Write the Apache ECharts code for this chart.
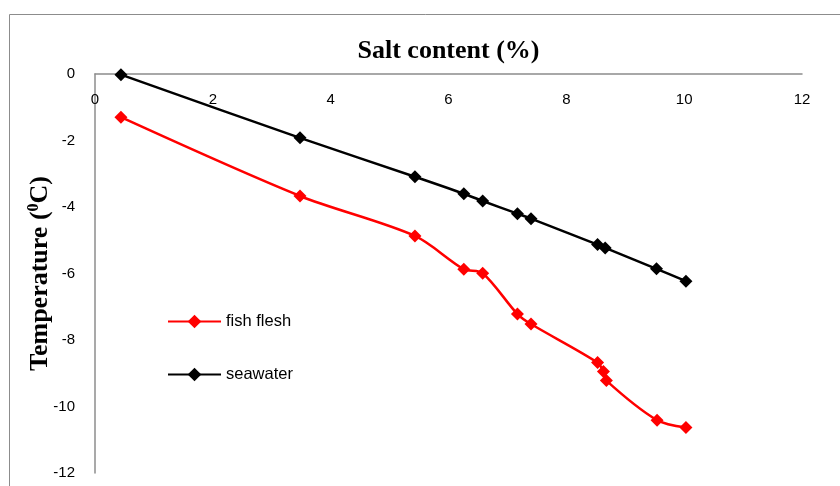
<!DOCTYPE html>
<html>
<head>
<meta charset="utf-8">
<script src="https://cdn.jsdelivr.net/npm/echarts@6/dist/echarts.min.js"></script>
<style>
  html, body { margin: 0; padding: 0; background: #fff; }
  #chart { width: 840px; height: 486px; }
</style>
</head>
<body>
<div id="chart"></div>
<script>
// salt content (%) vs freezing temperature
const seawaterSalt = [0.44, 3.48, 5.43, 6.26, 6.58, 7.17, 7.40, 8.53, 8.66, 9.53, 10.03]
const seawaterTemp = [-0.02, -1.92, -3.09, -3.6, -3.82, -4.2, -4.35, -5.13, -5.23, -5.86, -6.23]

const fishSalt = [0.44, 3.48, 5.43, 6.26, 6.58, 7.17, 7.40, 8.53, 8.63, 8.68, 9.54, 10.03]
const fishTemp = [-1.3, -3.67, -4.87, -5.87, -5.99, -7.22, -7.52, -8.68, -8.95, -9.22, -10.41, -10.63]

const xTicks = [0, 2, 4, 6, 8, 10, 12]
const yTicks = [0, -2, -4, -6, -8, -10, -12]

const toPairs = (xs, ys) => xs.map((x, i) => [x, ys[i]])

const chart = echarts.init(document.getElementById('chart'))

const labelFont = {
  color: '#000',
  fontSize: 15,
  fontFamily: 'Liberation Sans'
}

chart.setOption({
  animation: false,
  graphic: [
    {
      type: 'rect',
      shape: { x: 9.5, y: 14.5, width: 840, height: 480 },
      style: { fill: 'none', stroke: '#8c8c8c', lineWidth: 1 },
      silent: true
    }
  ],
  grid: { left: 95, top: 74, right: 38, bottom: 13 },
  legend: {
    orient: 'vertical',
    left: 162,
    top: 308,
    itemWidth: 53,
    itemHeight: 17,
    itemGap: 36,
    textStyle: { ...labelFont, fontSize: 16.5 },
    data: ['fish flesh', 'seawater']
  },
  xAxis: {
    type: 'value',
    position: 'top',
    min: 0,
    max: 12,
    interval: 2,
    name: 'Salt content (%)',
    nameLocation: 'middle',
    nameGap: 10,
    nameMoveOverlap: false,
    nameTextStyle: {
      fontFamily: 'Liberation Serif',
      fontWeight: 'bold',
      fontSize: 26,
      color: '#000'
    },
    axisLine: { lineStyle: { color: '#8c8c8c', width: 1.5 } },
    axisTick: { show: false },
    axisLabel: {
      ...labelFont,
      inside: true,
      margin: 18,
      formatter: v => xTicks.includes(v) ? String(v) : ''
    },
    splitLine: { show: false }
  },
  yAxis: {
    type: 'value',
    min: -12,
    max: 0,
    interval: 2,
    name: '{a|Temperature (}{sup|0}{a|C)}',
    nameLocation: 'middle',
    nameGap: 41,
    nameMoveOverlap: false,
    nameTextStyle: {
      rich: {
        a: {
          fontFamily: 'Liberation Serif',
          fontWeight: 'bold',
          fontSize: 26,
          color: '#000'
        },
        sup: {
          fontFamily: 'Liberation Serif',
          fontWeight: 'bold',
          fontSize: 16,
          color: '#000',
          padding: [0, 0, 12, 0]
        }
      }
    },
    axisLine: { show: true, lineStyle: { color: '#8c8c8c', width: 1.5 } },
    axisTick: { show: false },
    axisLabel: {
      ...labelFont,
      margin: 20,
      formatter: v => yTicks.includes(v) ? String(v) : ''
    },
    splitLine: { show: false }
  },
  series: [
    {
      name: 'fish flesh',
      type: 'line',
      data: toPairs(fishSalt, fishTemp),
      smooth: 0.3,
      symbol: 'diamond',
      symbolSize: 13,
      lineStyle: { color: '#ff0000', width: 2.5 },
      itemStyle: { color: '#ff0000' }
    },
    {
      name: 'seawater',
      type: 'line',
      data: toPairs(seawaterSalt, seawaterTemp),
      smooth: 0.3,
      symbol: 'diamond',
      symbolSize: 13,
      lineStyle: { color: '#000000', width: 2.5 },
      itemStyle: { color: '#000000' }
    }
  ]
})
</script>
</body>
</html>
